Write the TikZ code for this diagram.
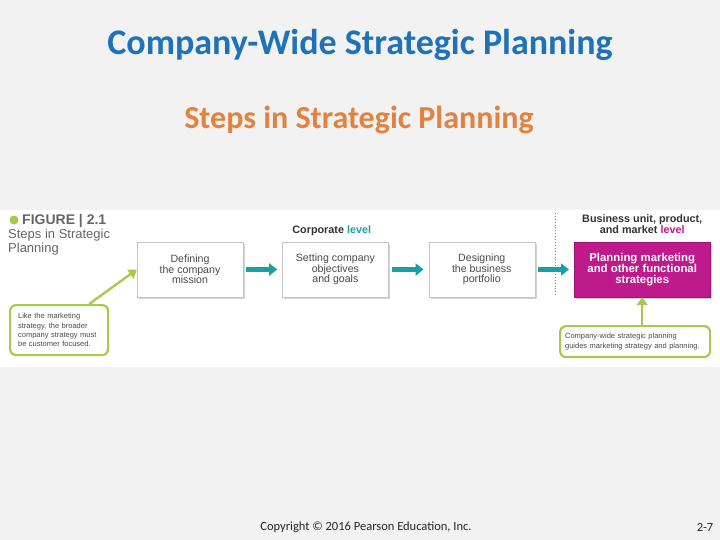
\documentclass[tikz,border=0pt]{standalone}
\usepackage{fontspec}
\setmainfont{Carlito}
\newfontfamily\figfont{Liberation Sans}
\usepackage{xcolor}
\usetikzlibrary{arrows.meta,positioning,shadows}
\definecolor{slidebg}{HTML}{F2F2F2}
\definecolor{titleblue}{HTML}{1F72B8}
\definecolor{suborange}{HTML}{E3823F}
\definecolor{stepteal}{HTML}{1AA0A4}
\definecolor{mktmagenta}{HTML}{BE1A8C}
\definecolor{notegreen}{HTML}{A9C84C}
\definecolor{figgray}{HTML}{4A4A4A}
\tikzset{
  stepbox/.style={draw=gray!45, fill=white, line width=.4pt, align=center, minimum height=55pt,
    font=\figfont\fontsize{10.6}{10.6}\selectfont, text=figgray,
    drop shadow={shadow xshift=2pt, shadow yshift=-2pt, fill=gray!70}},
  stepm/.style={stepbox, fill=mktmagenta, draw=mktmagenta!80!black, text=white,
    font=\figfont\bfseries\fontsize{11.4}{11.3}\selectfont},
  note/.style={draw=notegreen, rounded corners=6pt, line width=2.2pt, fill=white, align=left,
    font=\figfont\fontsize{7.5}{9.3}\selectfont, text=figgray, inner sep=5pt},
  ar/.style={-{Triangle[length=8pt,width=12pt]}, line width=4.5pt, draw=stepteal},
  gar/.style={-{Triangle[length=8pt,width=11pt]}, line width=2.4pt, draw=notegreen},
  hdr/.style={font=\figfont\bfseries\fontsize{10.8}{11}\selectfont, text=black!80, align=center},
}
\begin{document}
\begin{tikzpicture}[x=1pt, y=-1pt, node distance=39pt]
    \fill[slidebg] (0,0) rectangle (720,540);
    \useasboundingbox (0,0) rectangle (720,540);
    \fill[white] (0,210) rectangle (720,367);

    % titles
    \node[font=\bfseries\fontsize{36}{40}\selectfont, text=titleblue] (title) at (360,45) {Company-Wide Strategic Planning};
    \node[font=\bfseries\fontsize{32}{36}\selectfont, text=suborange] (sub) at (359,120) {Steps in Strategic Planning};

    % figure caption
    \fill[notegreen] (14,220) circle (4.5pt);
    \node[anchor=west, inner sep=0pt, font=\figfont\bfseries\fontsize{14}{15}\selectfont, text=gray!80!black] (fig) at (22,221) {FIGURE | 2.1};
    \node[anchor=north west, inner sep=0pt, align=left, font=\figfont\fontsize{13}{13.5}\selectfont, text=gray!80!black] (cap) at (8,229) {Steps in Strategic\\Planning};

    % steps
    \node[stepbox, minimum width=106pt] (mission) at (190,269.5) {Defining\\the company\\mission};
    \node[stepbox, right=of mission, minimum width=106pt] (goals) {Setting company\\objectives\\and goals};
    \node[stepbox, right=40pt of goals, minimum width=106pt] (portf) {Designing\\the business\\portfolio};
    \node[stepm, right=of portf, minimum width=136pt] (mkt) {Planning marketing\\and other functional\\strategies};
    \foreach \a/\b in {mission/goals, goals/portf, portf/mkt}{\draw[ar, shorten <=3pt, shorten >=5pt] (\a)--(\b);}

    \node[hdr, anchor=south west, inner sep=0pt] (corp) at ([xshift=10pt, yshift=6pt]goals.north west) {Corporate \textcolor{stepteal}{level}};
    \node[hdr, above=8pt of mkt, inner sep=0pt] (bu) {Business unit, product,\\and market \textcolor{mktmagenta}{level}};
    \draw[dotted, line width=.9pt, gray] (555,213) -- (555,297);

    % notes
    \node[note, text width=82pt, minimum height=50pt, inner xsep=8pt, anchor=north west] (cust) at (9,304) {Like the marketing\\strategy, the broader\\company strategy must\\be customer focused.};
    \node[note, text width=140pt, minimum height=31pt, anchor=north west] (guide) at (559,325) {Company-wide strategic planning\\guides marketing strategy and planning.};
    \draw[gar] ([xshift=-20pt]cust.north east) -- (mission.west);
    \draw[gar] (guide.north -| mkt) -- (mkt.south);

    % footer
    \node[font=\fontsize{12.5}{14}\selectfont, text=black!85] (copy) at (366,527) {Copyright \textcopyright{} 2016 Pearson Education, Inc.};
    \node[font=\fontsize{12.5}{14}\selectfont, text=black!85] (pg) at (705,527) {2-7};
  \end{tikzpicture}
\end{document}
